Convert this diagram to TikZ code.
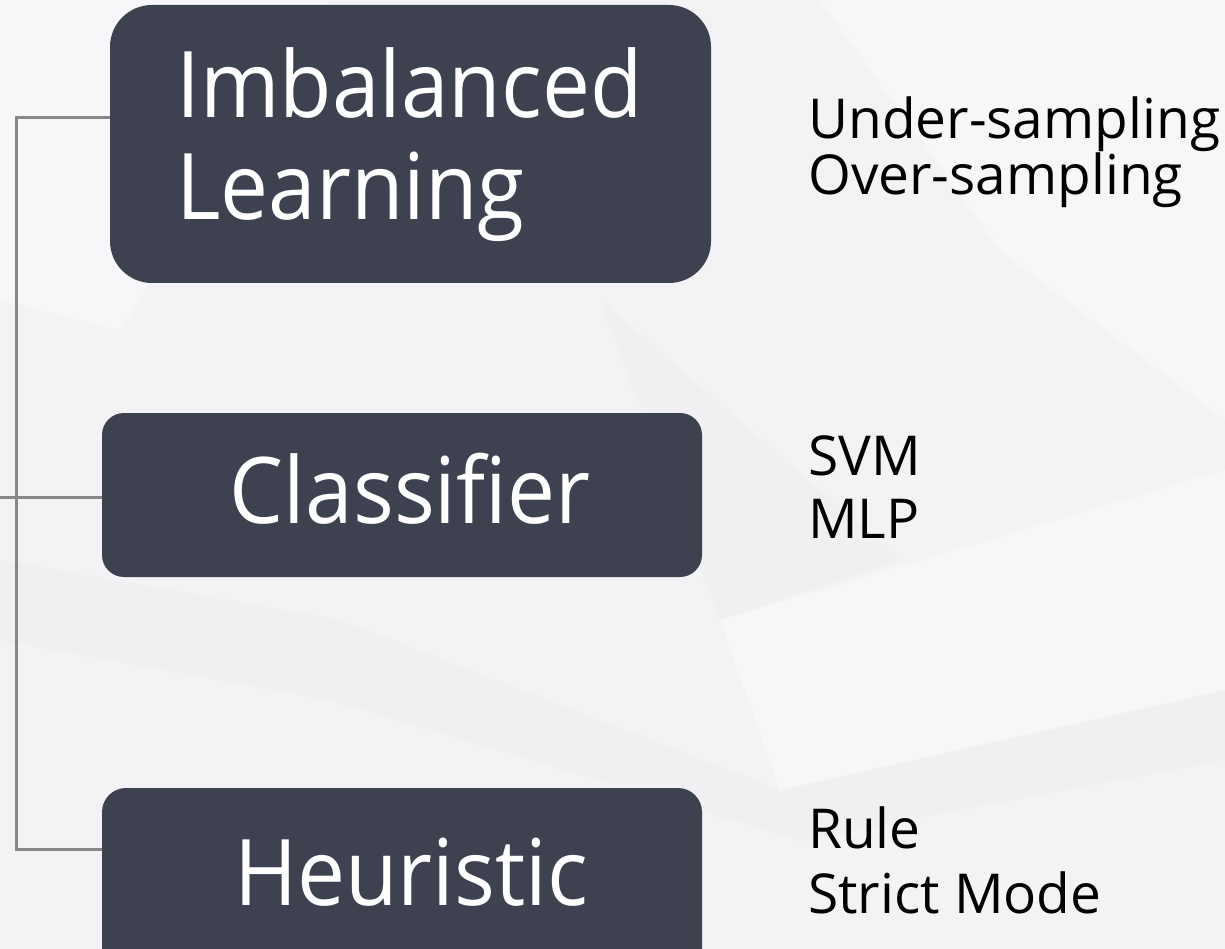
\documentclass[tikz,border=0pt]{standalone}
\usepackage{fontspec}
\setmainfont{Open Sans}
\newfontfamily\boxfont[FakeStretch=0.93]{Open Sans}
\definecolor{bgbase}{HTML}{F3F3F5}
\definecolor{bglight}{HTML}{F7F7F9}
\definecolor{bgdark}{HTML}{F0F0F3}
\definecolor{boxfill}{HTML}{3E4150}
\definecolor{linkgray}{HTML}{888888}
\tikzset{
  catbox/.style={fill=boxfill, draw=none, inner sep=0pt},
  cattext/.style={text=white, inner sep=0pt, font=\boxfont\fontsize{92}{102}\selectfont},
  itemtext/.style={text=black, inner sep=0pt, align=left, anchor=base west},
  link/.style={draw=linkgray, line width=3pt}
}
\begin{document}
\begin{tikzpicture}[x=1pt, y=-1pt]
  \clip (0,0) rectangle (1225,949);
  \useasboundingbox (0,0) rectangle (1225,949);
  % faint faceted background
  \fill[bgbase] (0,0) rectangle (1225,949);
  \fill[bglight] (0,0) -- (330,0) -- (120,330) -- (0,300) -- cycle;
  \fill[bglight] (820,0) -- (1225,0) -- (1225,420) -- (1000,250) -- cycle;
  \fill[bgdark] (0,560) -- (340,620) -- (780,790) -- (1225,690) -- (1225,760) -- (800,840) -- (330,700) -- (0,640) -- cycle;
  \fill[bglight] (720,620) -- (1225,470) -- (1225,690) -- (780,790) -- cycle;
  \fill[bgdark] (600,300) -- (900,560) -- (720,620) -- cycle;

  % category boxes
  \node[catbox, rounded corners=42pt, minimum width=601pt, minimum height=278pt] (imb) at (410.5,144) {};
  \node[catbox, rounded corners=22pt, minimum width=600pt, minimum height=164pt] (cls) at (402,495) {};
  \node[catbox, rounded corners=24pt, minimum width=600pt, minimum height=200pt] (heu) at (402,888) {};

  % category names (multi-line nodes sit on their last baseline)
  \node[cattext, align=left, anchor=base west] (imbtxt) at (176,220) {Imbalanced\\Learning};
  \node[cattext, anchor=base] (clstxt) at (410,523) {Classifier};
  \node[cattext, anchor=base] (heutxt) at (411,905) {Heuristic};

  % methods per category
  \node[itemtext, font=\fontsize{55}{53}\selectfont] (imbitems) at (808,195) {Under-sampling\\Over-sampling};
  \node[itemtext, font=\fontsize{55}{63}\selectfont] (clsitems) at (808,538) {SVM\\MLP};
  \node[itemtext, font=\fontsize{55}{65}\selectfont] (heuitems) at (808,913) {Rule\\Strict Mode};

  % bracket joining the categories
  \coordinate (top) at (16,118);
  \coordinate (bot) at (16,849);
  \coordinate (lefte) at (0,497);
  \draw[link] (imb.west |- top) -- (top) -- (bot) -- (heu.west |- bot);
  \draw[link] (lefte) -- (cls.west |- lefte);
\end{tikzpicture}
\end{document}
